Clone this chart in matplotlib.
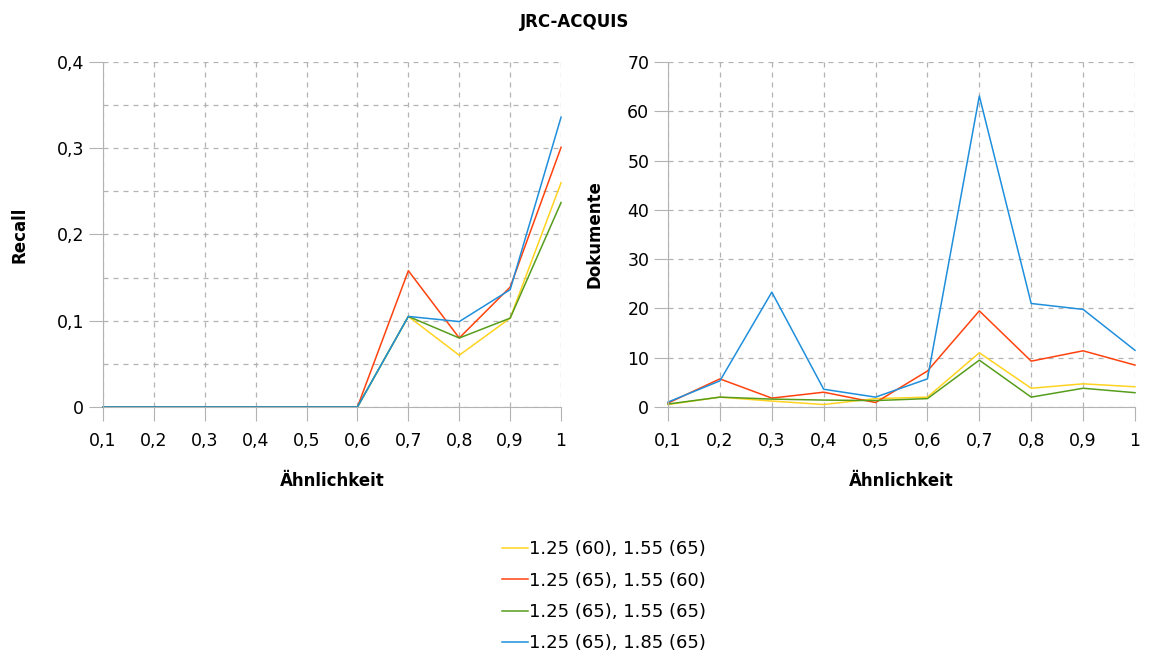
import matplotlib.pyplot as plt
from matplotlib.ticker import FuncFormatter, MultipleLocator

# Data
similarity = [0.1, 0.2, 0.3, 0.4, 0.5, 0.6, 0.7, 0.8, 0.9, 1.0]
labels = ['1.25 (60), 1.55 (65)', '1.25 (65), 1.55 (60)',
          '1.25 (65), 1.55 (65)', '1.25 (65), 1.85 (65)']
colors = ['#ffd320', '#ff420e', '#579d1c', '#1f8fdc']

recall_a = [0, 0, 0, 0, 0, 0, 0.105, 0.060, 0.103, 0.260]
recall_b = [0, 0, 0, 0, 0, 0, 0.158, 0.080, 0.139, 0.301]
recall_c = [0, 0, 0, 0, 0, 0, 0.105, 0.080, 0.103, 0.237]
recall_d = [0, 0, 0, 0, 0, 0, 0.105, 0.099, 0.136, 0.336]

docs_a = [0.5, 2.0, 1.2, 0.5, 1.7, 2.0, 11.0, 3.8, 4.7, 4.1]
docs_b = [0.8, 5.7, 1.8, 3.0, 0.9, 7.3, 19.5, 9.3, 11.4, 8.5]
docs_c = [0.6, 2.0, 1.6, 1.4, 1.3, 1.7, 9.5, 2.0, 3.8, 2.9]
docs_d = [1.0, 5.3, 23.3, 3.6, 2.0, 5.7, 63.1, 21.0, 19.8, 11.5]

recall = [recall_a, recall_b, recall_c, recall_d]
docs = [docs_a, docs_b, docs_c, docs_d]

plt.rcParams['font.family'] = ['DejaVu Sans']
plt.rcParams['font.size'] = 12

fig = plt.figure(figsize=(11.49, 6.56), dpi=100)
ax1 = fig.add_axes([0.0896, 0.3796, 0.3987, 0.5259])
ax2 = fig.add_axes([0.5814, 0.3796, 0.4064, 0.5259])

comma = FuncFormatter(lambda v, p: ('%g' % round(v, 3)).replace('.', ','))

for ax in (ax1, ax2):
    ax.set_xlim(0.1, 1.0)
    ax.xaxis.set_major_locator(MultipleLocator(0.1))
    ax.xaxis.set_major_formatter(comma)
    ax.yaxis.set_major_formatter(comma)
    for s in ('top', 'right'):
        ax.spines[s].set_visible(False)
    for s in ('left', 'bottom'):
        ax.spines[s].set_color('#b3b3b3')
    ax.tick_params(axis='both', which='major', length=10, color='#b3b3b3', labelsize=12.5)
    ax.tick_params(axis='x', which='major', pad=8)
    ax.tick_params(axis='y', which='minor', length=0)
    ax.grid(True, which='both', color='#b3b3b3', linestyle=(0, (4, 4)), linewidth=0.9)
    ax.set_axisbelow(True)
    ax.set_xlabel('Ähnlichkeit', fontweight='bold', fontsize=12, labelpad=16)

ax1.set_ylim(0, 0.4)
ax1.yaxis.set_major_locator(MultipleLocator(0.1))
ax1.yaxis.set_minor_locator(MultipleLocator(0.05))
ax1.set_ylabel('Recall', fontweight='bold', fontsize=12, labelpad=20)

ax2.set_ylim(0, 70)
ax2.yaxis.set_major_locator(MultipleLocator(10))
ax2.set_ylabel('Dokumente', fontweight='bold', fontsize=12, labelpad=17)

for r, d, c, lab in zip(recall, docs, colors, labels):
    ax1.plot(similarity, r, color=c, linewidth=1.1, label=lab, clip_on=False)
    ax2.plot(similarity, d, color=c, linewidth=1.1, clip_on=False)

fig.text(0.5, 0.966, 'JRC-ACQUIS', ha='center', va='center', fontweight='bold', fontsize=12)

handles, leg_labels = ax1.get_legend_handles_labels()
fig.legend(handles, leg_labels, loc='center', bbox_to_anchor=(0.526, 0.091), frameon=False,
           fontsize=13, handlelength=1.4, handletextpad=0.1, labelspacing=0.74)

fig.savefig('out.png', dpi=100)
